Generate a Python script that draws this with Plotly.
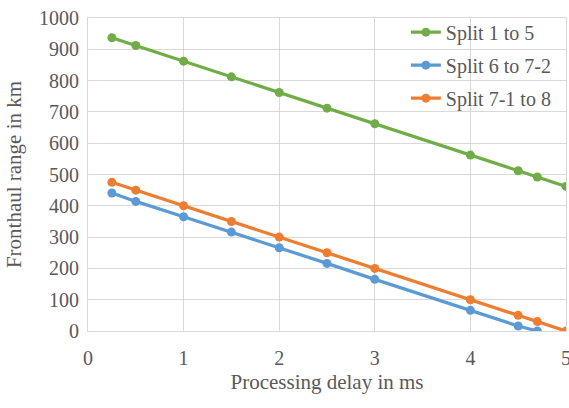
import plotly.graph_objects as go

delay = [0.25, 0.5, 1, 1.5, 2, 2.5, 3, 4, 4.5, 4.7, 5]
delay_blue = [0.25, 0.5, 1, 1.5, 2, 2.5, 3, 4, 4.5, 4.7]
split_1_5 = [937, 912, 862, 812, 762, 712, 662, 562, 512, 492, 462]
split_6_72 = [441, 414, 365, 316, 266, 216, 165, 66, 16, 0]
split_71_8 = [475, 450, 400, 350, 300, 250, 200, 100, 50, 30, 0]

FAM = "Liberation Serif, Times New Roman, serif"
GREY = "#595959"

fig = go.Figure()
fig.add_trace(go.Scatter(x=delay, y=split_1_5, name="Split 1 to 5", mode="lines+markers", legendgroup="a",
                         line=dict(color="#70ad47", width=3.25), marker=dict(size=9, color="#70ad47")))
fig.add_trace(go.Scatter(x=delay_blue, y=split_6_72, name="Split 6 to 7-2", mode="lines+markers", legendgroup="b",
                         line=dict(color="#5b9bd5", width=3.25), marker=dict(size=9, color="#5b9bd5")))
fig.add_trace(go.Scatter(x=delay, y=split_71_8, name="Split 7-1 to 8", mode="lines+markers", legendgroup="c",
                         line=dict(color="#ed7d31", width=3.25), marker=dict(size=9, color="#ed7d31")))

fig.update_layout(
    width=569, height=408,
    margin=dict(l=88, r=3, t=18, b=77, autoexpand=False),
    paper_bgcolor="white", plot_bgcolor="white",
    font=dict(family=FAM, color=GREY, size=20),
    showlegend=True,
    legend=dict(x=0.665, y=1.017, xanchor="left", yanchor="top", bgcolor="rgba(0,0,0,0)",
                font=dict(family=FAM, size=20, color=GREY), itemwidth=30, tracegroupgap=4),
    xaxis=dict(range=[0, 5], dtick=1, showgrid=True, gridcolor="#d9d9d9", gridwidth=1,
               zeroline=False, showline=True, mirror=True, linecolor="#d9d9d9", linewidth=1,
               ticks="", ticklabelstandoff=9, ticklabeloverflow="allow",
               title=dict(text="Processing delay in ms", font=dict(family=FAM, size=21, color=GREY), standoff=6),
               tickfont=dict(family=FAM, size=20, color=GREY)),
    yaxis=dict(range=[0, 1000], dtick=100, showgrid=True, gridcolor="#d9d9d9", gridwidth=1,
               zeroline=False, showline=True, mirror=True, linecolor="#d9d9d9", linewidth=1,
               ticks="", ticklabelstandoff=4,
               title=dict(text="Fronthaul range in km", font=dict(family=FAM, size=21, color=GREY), standoff=11),
               tickfont=dict(family=FAM, size=20, color=GREY)),
)

fig.write_html("out.html", config={"displayModeBar": False},
               post_script="document.body.style.margin='0px';")
